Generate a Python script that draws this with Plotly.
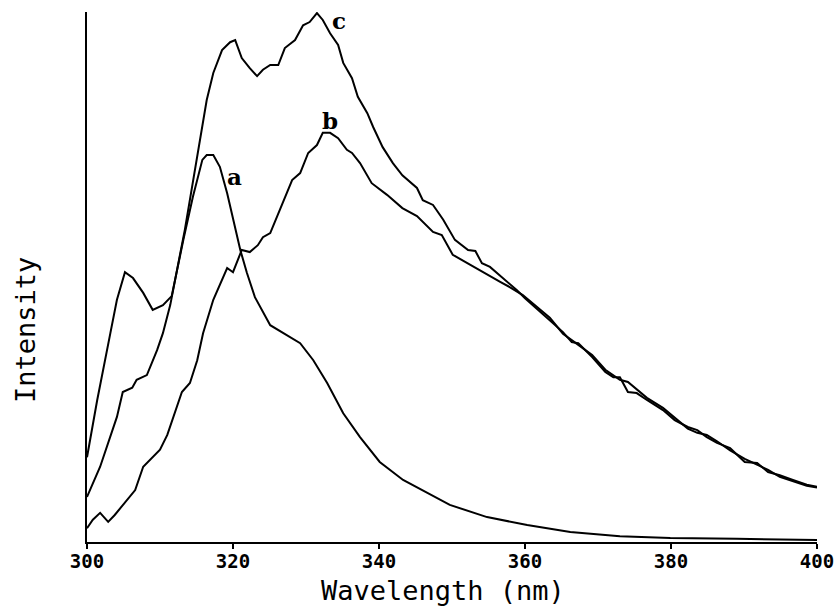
import plotly.graph_objects as go

# Fluorescence emission spectra a, b, c (arbitrary intensity units)
wl_a = [300.0, 301.4, 303.2, 304.1, 305.2, 306.3, 307.7, 309.0, 310.4, 311.6, 313.2, 314.5,
        315.8, 316.4, 317.3, 318.2, 319.2, 320.0, 321.0, 321.9, 323.0, 325.1, 327.8, 329.2,
        331.0, 332.9, 335.1, 337.4, 340.1, 343.3, 349.7, 354.8, 360.3, 366.2, 373.0, 379.9,
        389.0, 400.0]
int_a = [16.0, 26.8, 39.4, 45.7, 50.9, 49.8, 47.0, 43.8, 44.7, 46.4, 57.0, 65.1,
         72.1, 73.0, 73.0, 70.8, 65.8, 60.8, 55.1, 50.8, 46.2, 40.9, 38.7, 37.5,
         34.3, 30.0, 24.3, 19.8, 15.1, 11.7, 7.0, 4.7, 3.2, 1.9, 1.1, 0.75,
         0.6, 0.4]

wl_b = [300.0, 300.8, 301.8, 302.9, 303.8, 305.2, 306.6, 307.7, 308.6, 310.0, 311.0, 311.8,
        313.0, 314.1, 315.1, 315.9, 317.3, 319.2, 320.0, 321.2, 322.3, 323.4, 324.1, 325.1,
        326.4, 328.1, 329.2, 330.3, 331.5, 332.3, 333.3, 334.4, 335.6, 336.3, 337.4, 339.0,
        341.1, 343.2, 345.2, 347.4, 348.6, 350.1, 352.1, 354.2, 356.6, 357.9, 359.7, 363.4,
        365.2, 366.4, 367.3, 369.2, 371.0, 372.1, 373.0, 374.1, 375.3, 376.7, 378.9, 380.5,
        382.3, 383.6, 384.9, 386.3, 388.1, 390.1, 391.8, 393.3, 394.9, 396.7, 398.6, 400.0]
int_b = [2.6, 4.2, 5.5, 3.8, 5.1, 7.4, 9.8, 14.2, 15.5, 17.4, 20.2, 23.6,
         28.3, 30.0, 34.3, 39.4, 45.7, 51.7, 50.9, 55.1, 54.7, 56.0, 57.5, 58.3,
         62.6, 68.3, 69.6, 73.4, 74.9, 77.2, 77.2, 76.2, 74.0, 73.4, 71.5, 67.7,
         65.5, 63.0, 61.5, 58.5, 57.9, 54.2, 52.6, 50.9, 49.1, 48.1, 46.6, 42.3,
         39.3, 38.1, 37.2, 35.3, 32.5, 31.5, 30.6, 30.2, 28.8, 27.2, 25.3, 23.4,
         21.4, 20.6, 20.2, 19.0, 17.3, 15.7, 14.5, 13.6, 12.3, 11.5, 10.6, 10.3]

wl_c = [300.0, 301.8, 304.1, 304.9, 306.2, 306.8, 308.2, 309.6, 310.4, 311.4, 313.4, 315.5,
        316.4, 317.3, 318.5, 319.6, 320.3, 321.2, 322.3, 323.3, 324.1, 325.1, 326.2, 327.1,
        328.5, 329.6, 330.5, 331.5, 332.3, 333.3, 334.4, 335.1, 336.3, 337.1, 338.4, 339.2,
        340.5, 341.9, 343.2, 345.2, 346.0, 347.4, 348.8, 350.4, 352.2, 353.2, 354.1, 355.2,
        357.0, 358.9, 360.0, 363.4, 365.2, 366.4, 367.3, 369.2, 371.0, 372.1, 373.0, 374.1,
        375.3, 376.7, 378.9, 380.5, 382.3, 383.6, 384.9, 386.3, 388.1, 390.1, 391.8, 393.3,
        394.9, 396.7, 398.6, 400.0]
int_c = [8.5, 14.2, 23.6, 28.3, 29.1, 30.6, 31.5, 36.2, 39.4, 44.7, 58.9, 75.8,
         83.4, 88.5, 92.8, 94.3, 94.7, 91.3, 89.4, 87.9, 89.1, 90.0, 90.0, 93.2,
         94.7, 97.5, 98.1, 99.8, 98.5, 96.0, 93.8, 90.4, 87.5, 84.0, 80.9, 78.3,
         74.5, 71.5, 69.2, 66.8, 64.5, 63.6, 60.8, 57.0, 55.1, 54.9, 52.6, 51.9,
         49.8, 47.5, 46.0, 41.9, 39.6, 37.7, 37.5, 34.9, 32.1, 31.1, 31.1, 28.3,
         28.1, 26.8, 24.9, 23.0, 21.7, 21.1, 19.8, 18.7, 17.7, 15.1, 14.9, 13.2,
         12.6, 11.7, 10.8, 10.4]

# Curve labels: text and anchor position in data units
label_text = ["a", "b", "c"]
label_x = [320.2, 333.3, 334.5]
label_y = [69.0, 79.6, 98.4]

tick_vals = [300, 320, 340, 360, 380, 400]
tick_text = ["300", "320", "340", "360", "380", "400"]

fig = go.Figure()
for wl, inten, name in [(wl_a, int_a, "a"), (wl_b, int_b, "b"), (wl_c, int_c, "c")]:
    fig.add_trace(go.Scatter(x=wl, y=inten, mode="lines", name=name,
                             line=dict(color="black", width=2), showlegend=False))

for t, lx, ly in zip(label_text, label_x, label_y):
    fig.add_annotation(x=lx, y=ly, text=t, showarrow=False, xanchor="center", yanchor="middle",
                       font=dict(family="DejaVu Serif", size=23, color="black", weight="bold"))

mono = "DejaVu Sans Mono"
fig.add_annotation(xref="paper", yref="paper", x=0.487, y=-0.092, text="Wavelength (nm)",
                   showarrow=False, xanchor="center", yanchor="middle",
                   font=dict(family=mono, size=27, color="black"))
fig.add_annotation(xref="paper", yref="paper", x=-0.085, y=0.40, text="Intensity",
                   showarrow=False, textangle=-90, xanchor="center", yanchor="middle",
                   font=dict(family=mono, size=27, color="black"))

fig.update_layout(
    width=835, height=607, autosize=False,
    margin=dict(l=87, r=18, t=12, b=65),
    plot_bgcolor="white", paper_bgcolor="white",
    xaxis=dict(range=[300, 400], tickvals=tick_vals, ticktext=tick_text, automargin=False,
               ticks="outside", ticklen=5, tickwidth=2, tickcolor="black",
               ticklabelstandoff=-4,
               showline=True, linewidth=2, linecolor="black", showgrid=False, zeroline=False,
               tickfont=dict(family=mono, size=19, color="black", weight="bold")),
    yaxis=dict(range=[0, 100], showline=True, linewidth=2, linecolor="black", automargin=False,
               showticklabels=False, ticks="", showgrid=False, zeroline=False),
)

fig.write_html("out.html", config={"responsive": False},
               post_script="document.body.style.margin='0';document.body.style.overflow='hidden';")
